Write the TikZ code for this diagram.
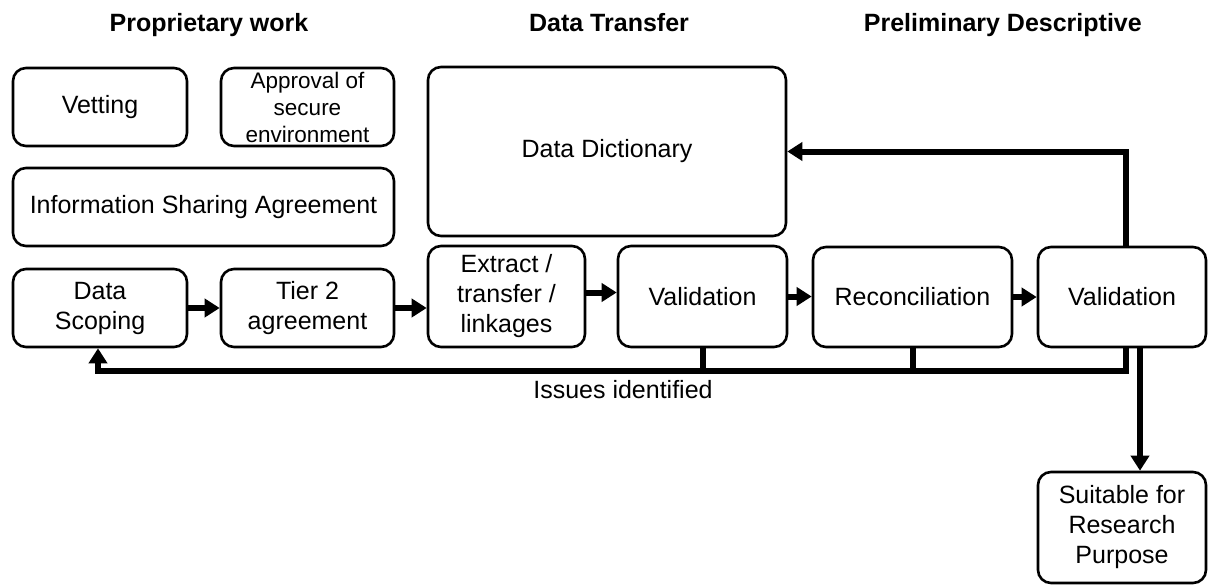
\documentclass[tikz,border=0pt]{standalone}
\usepackage{fontspec}
\setmainfont{Liberation Sans}
\usetikzlibrary{arrows.meta}
\begin{document}
\begin{tikzpicture}[x=1pt,y=-1pt,
  box/.style={draw,line width=2.6pt,rounded corners=13pt,inner sep=0pt,align=center,
    font=\fontsize{25}{30}\selectfont},
  title/.style={font=\fontsize{25}{30}\selectfont\bfseries,inner sep=0pt,anchor=base},
  arr/.style={line width=6pt,-{Triangle[length=15pt,width=18pt]}},
  ln/.style={line width=6pt}]
\useasboundingbox (0,0) rectangle (1208,586);
\newcommand{\bx}[7][]{\node[box,minimum width=#5-#3,minimum height=#6-#4,#1] (#2) at ({(#3+#5)/2},{(#4+#6)/2}) {#7};}
% titles
\node[title] (t1) at (209,32) {Proprietary work};
\node[title] (t2) at (609,32) {Data Transfer};
\node[title,anchor=base east] (t3) at (1142,32) {Preliminary Descriptive};
% boxes
\bx{vet}{13}{68}{187}{146}{Vetting}
\bx[font=\fontsize{22.5}{27}\selectfont]{app}{221}{68}{394}{146}{Approval of\\secure\\environment}
\bx{isa}{13}{168}{394}{246}{Information Sharing Agreement}
\bx{ds}{13}{269}{187}{347}{Data\\Scoping}
\bx{tier}{221}{269}{394}{347}{Tier 2\\agreement}
\bx{ex}{428}{246}{585}{347}{Extract /\\transfer /\\linkages}
\bx{va}{618}{246}{787}{347}{Validation}
\bx{dd}{428}{67}{786}{236}{Data Dictionary}
\bx{rec}{813}{247}{1012}{347}{Reconciliation}
\bx{vb}{1038}{247}{1206}{347}{Validation}
\bx{suit}{1038}{472}{1206}{583}{Suitable for\\Research\\Purpose}
\coordinate (fb) at (0,371);
% forward arrows
\draw[arr] (ds.east) -- (tier.west);
\draw[arr] (tier.east) -- (tier.east -| ex.west);
\draw[arr] ([yshift=4]ex.east) -- ([yshift=4]ex.east -| va.west);
\draw[arr] (va.east) -- (va.east -| rec.west);
\draw[arr] (rec.east) -- (rec.east -| vb.west);
% feedback
\draw[ln] (va.south) -- (va.south |- fb);
\draw[ln] (rec.south) -- (rec.south |- fb);
\draw[arr] ([xshift=4]vb.south) |- ([xshift=-2]ds.south |- fb) -- ([xshift=-2]ds.south);
\node[font=\fontsize{25}{30}\selectfont,inner sep=0pt,anchor=base] (iss) at (623,398) {Issues identified};
% up to data dictionary
\draw[arr] ([xshift=4]vb.north) |- (dd.east);
% down to suitable
\draw[arr] ([xshift=18]vb.south) -- ([xshift=18]vb.south |- suit.north);
\end{tikzpicture}
\end{document}
